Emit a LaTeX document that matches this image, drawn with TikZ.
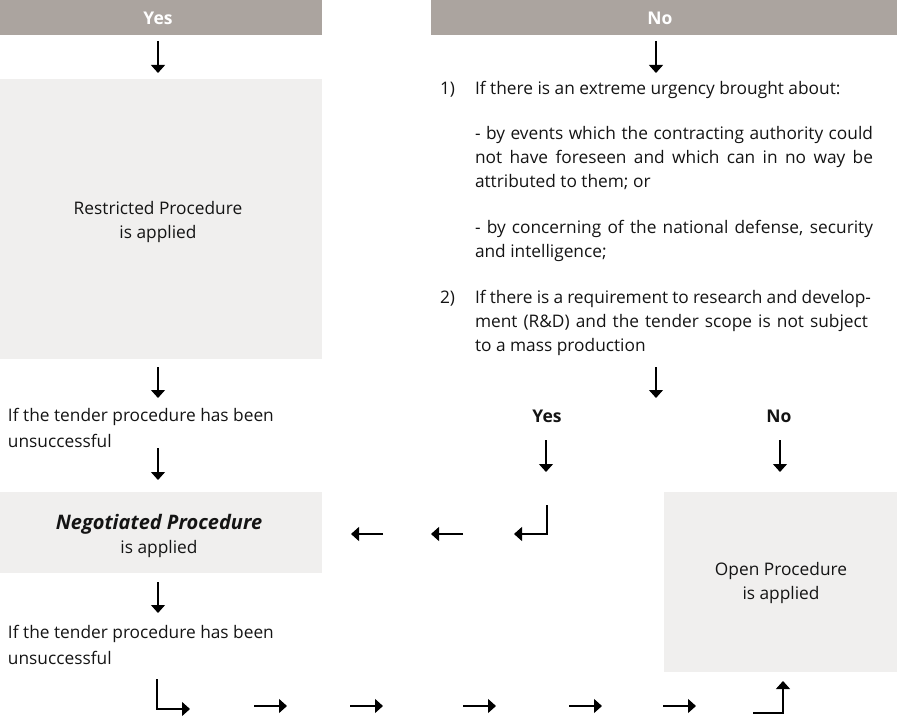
\documentclass[tikz,border=0pt]{standalone}
\usepackage{fontspec}
\setmainfont{Open Sans}
\usetikzlibrary{arrows.meta}
\definecolor{hdr}{RGB}{171,164,159}
\definecolor{boxfill}{RGB}{240,239,238}
\definecolor{txt}{RGB}{20,20,20}
\begin{document}
\begin{tikzpicture}[x=1pt,y=-1pt,
  every node/.style={inner sep=0pt, outer sep=0pt, text=txt, font=\fontsize{17.3}{24}\selectfont},
  hdrbox/.style={fill=hdr, draw=none, anchor=north west, minimum height=35pt},
  grbox/.style={fill=boxfill, draw=none, anchor=north west},
  hdrtxt/.style={text=white, anchor=base, font=\fontsize{17.5}{20}\selectfont\bfseries},
  boldlbl/.style={anchor=base, font=\fontsize{17.5}{20}\selectfont\bfseries},
  arr/.style={line width=1.1pt, draw=black, -{Triangle[width=14pt,length=8pt]}},
  elb/.style={line width=1.1pt, draw=black, -{Triangle[width=14pt,length=8pt]}},
  ln/.style={anchor=base west},
  ctr/.style={align=center, font=\fontsize{17.3}{24}\selectfont},
]
\useasboundingbox (0,0) rectangle (897,717);

% headers
\node[hdrbox, minimum width=322pt] (yesH) at (0,0) {};
\node[hdrtxt] (yesT) at (158,25) {Yes};
\node[hdrbox, minimum width=466pt] (noH) at (431,0) {};
\node[hdrtxt] (noT) at (660,25) {No};

% grey boxes
\node[grbox, minimum width=322pt, minimum height=280pt] (restr) at (0,79) {};
\node[ctr] (restrT) at (158,222) {Restricted Procedure\\is applied};
\node[grbox, minimum width=322pt, minimum height=81pt] (neg) at (0,492) {};
\node[ctr] (negT) at (159,536) {{\fontsize{20}{24}\selectfont\bfseries\itshape Negotiated Procedure}\\is applied};
\node[grbox, minimum width=233pt, minimum height=180pt] (open) at (664,492) {};
\node[ctr] (openT) at (781,583) {Open Procedure\\is applied};

% right-hand list
\node[ln] (n1) at (440,94) {1)};
\node[ln] (l1) at (475,94) {If there is an extreme urgency brought about:};
\node[ln] (l2) at (475,139) {\makebox[398pt][s]{- by events which the contracting authority could}};
\node[ln] (l3) at (475,163) {\makebox[398pt][s]{not have foreseen and which can in no way be}};
\node[ln] (l4) at (475,187) {attributed to them; or};
\node[ln] (l5) at (475,233) {\makebox[398pt][s]{- by concerning of the national defense, security}};
\node[ln] (l6) at (475,257) {and intelligence;};
\node[ln] (n2) at (440,303) {2)};
\node[ln] (l7) at (475,303) {\makebox[396pt][s]{If there is a requirement to research and develop-}};
\node[ln] (l8) at (475,327) {\makebox[393pt][s]{ment (R\&D) and the tender scope is not subject}};
\node[ln] (l9) at (475,351) {to a mass production};

% left texts
\node[ln] (u1) at (8,421) {If the tender procedure has been};
\node[ln] (u2) at (8,447) {unsuccessful};
\node[ln] (v1) at (8,638) {If the tender procedure has been};
\node[ln] (v2) at (8,664) {unsuccessful};

% middle yes / no
\node[boldlbl] (myes) at (547,422) {Yes};
\node[boldlbl] (mno) at (779,422) {No};

% arrow coordinates
\coordinate (a1s) at (158,41);  \coordinate (a1e) at (158,73);
\coordinate (a2s) at (656,41);  \coordinate (a2e) at (656,73);
\coordinate (a3s) at (158,367); \coordinate (a3e) at (158,398);
\coordinate (a4s) at (656,367); \coordinate (a4e) at (656,398);
\coordinate (a5s) at (158,448); \coordinate (a5e) at (158,480);
\coordinate (a6s) at (546,440); \coordinate (a6e) at (546,472);
\coordinate (a7s) at (780,440); \coordinate (a7e) at (780,472);
\coordinate (a8s) at (158,582); \coordinate (a8e) at (158,613);
\coordinate (e1s) at (547,505); \coordinate (e1c) at (547,534); \coordinate (e1e) at (514,534);
\coordinate (h1s) at (463,534); \coordinate (h1e) at (431,534);
\coordinate (h2s) at (383,534); \coordinate (h2e) at (351,534);
\coordinate (e2s) at (157,679); \coordinate (e2c) at (157,709); \coordinate (e2e) at (190,709);
\coordinate (b1s) at (254,706); \coordinate (b1e) at (287,706);
\coordinate (b2s) at (350,706); \coordinate (b2e) at (383,706);
\coordinate (b3s) at (463,706); \coordinate (b3e) at (496,706);
\coordinate (b4s) at (569,706); \coordinate (b4e) at (602,706);
\coordinate (b5s) at (663,706); \coordinate (b5e) at (696,706);
\coordinate (e3s) at (753,713); \coordinate (e3c) at (783,713); \coordinate (e3e) at (783,681);

\draw[arr] (a1s) -- (a1e);
\draw[arr] (a2s) -- (a2e);
\draw[arr] (a3s) -- (a3e);
\draw[arr] (a4s) -- (a4e);
\draw[arr] (a5s) -- (a5e);
\draw[arr] (a6s) -- (a6e);
\draw[arr] (a7s) -- (a7e);
\draw[arr] (a8s) -- (a8e);
\draw[elb] (e1s) -- (e1c) -- (e1e);
\draw[arr] (h1s) -- (h1e);
\draw[arr] (h2s) -- (h2e);
\draw[elb] (e2s) -- (e2c) -- (e2e);
\draw[arr] (b1s) -- (b1e);
\draw[arr] (b2s) -- (b2e);
\draw[arr] (b3s) -- (b3e);
\draw[arr] (b4s) -- (b4e);
\draw[arr] (b5s) -- (b5e);
\draw[elb] (e3s) -- (e3c) -- (e3e);
\end{tikzpicture}
\end{document}
